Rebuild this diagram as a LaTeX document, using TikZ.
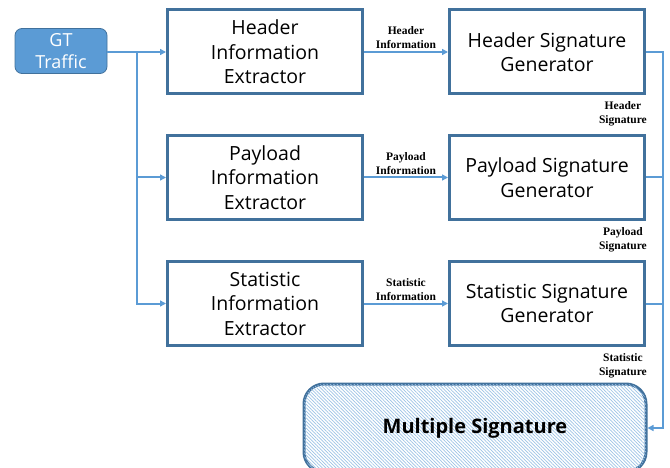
\documentclass[tikz,border=0pt]{standalone}
\usepackage{fontspec}
\setmainfont{Liberation Serif}
\newfontfamily\boxfont{Open Sans}
\usetikzlibrary{arrows.meta, patterns.meta}
\definecolor{boxline}{HTML}{41719C}
\definecolor{flowline}{HTML}{5B9BD5}
\definecolor{hatch}{HTML}{9DC3E6}
\tikzstyle{source} = [rectangle, rounded corners=7pt, minimum width=92pt, minimum height=45pt, align=center, draw=boxline, line width=0.8pt, fill=flowline, text=white, font=\boxfont\fontsize{18}{22}\selectfont]
\tikzstyle{process} = [rectangle, minimum width=195pt, minimum height=84pt, align=center, draw=boxline, line width=3pt, fill=white, font=\boxfont\fontsize{19.5}{24.5}\selectfont]
\tikzstyle{result} = [rectangle, rounded corners=20pt, minimum width=342pt, minimum height=88pt, draw=boxline, line width=3pt, fill=white, postaction={pattern={Lines[angle=-45,distance=2.4pt,line width=0.7pt]}, pattern color=hatch}, font=\boxfont\bfseries\fontsize{20}{22}\selectfont]
\tikzstyle{tag} = [align=center, inner sep=2pt, font=\bfseries\fontsize{11.5}{14}\selectfont]
\tikzstyle{arrow} = [draw=flowline, line width=2pt, -{Triangle[length=6pt,width=6pt]}]
\tikzstyle{link} = [draw=flowline, line width=2pt]

\begin{document}
\begin{tikzpicture}[x=1pt, y=-1pt, node distance=282pt]
        \useasboundingbox (0,0) rectangle (670,468);
        \node (gt) [source] at (61,51) {GT\\Traffic};
        \node (hext) [process] at (265,52) {Header\\Information\\Extractor};
        \node (hgen) [process, right of=hext] {Header Signature\\Generator};
        \node (pext) [process] at (265,177.5) {Payload\\Information\\Extractor};
        \node (pgen) [process, right of=pext] {Payload Signature\\Generator};
        \node (sext) [process] at (265,303.5) {Statistic\\Information\\Extractor};
        \node (sgen) [process, right of=sext] {Statistic Signature\\Generator};
        \node (multi) [result] at (475,428) {Multiple Signature};
        \coordinate (branch) at (137,52);
        \coordinate (collect) at (663,52);
        % input fan-out
        \draw [arrow] (gt.east |- hext) -- (hext);
        \draw [arrow] (branch) |- (pext);
        \draw [arrow] (branch) |- (sext);
        % extractor to generator
        \draw [arrow] (hext) -- node[tag, above] {Header\\Information} (hgen);
        \draw [arrow] (pext) -- node[tag, above] {Payload\\Information} (pgen);
        \draw [arrow] (sext) -- node[tag, above] {Statistic\\Information} (sgen);
        % signatures to multiple signature
        \draw [arrow] (hgen) -- (collect) |- (multi);
        \draw [link] (pgen) -- (pgen -| collect);
        \draw [link] (sgen) -- (sgen -| collect);
        \node [tag, anchor=north east] at ([shift={(3,4)}]hgen.south east) {Header\\Signature};
        \node [tag, anchor=north east] at ([shift={(3,4)}]pgen.south east) {Payload\\Signature};
        \node [tag, anchor=north east] at ([shift={(3,4)}]sgen.south east) {Statistic\\Signature};
    \end{tikzpicture}
\end{document}
